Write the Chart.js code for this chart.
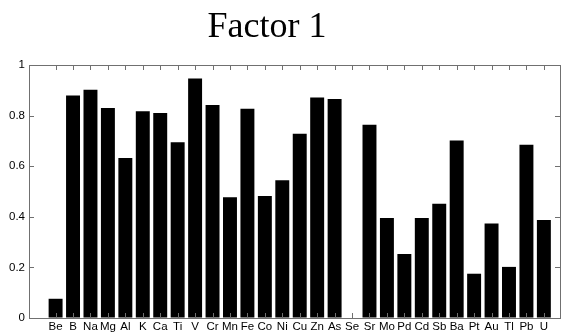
<!DOCTYPE html>
<html>
<head>
<meta charset="utf-8">
<script src="https://cdn.jsdelivr.net/npm/chart.js@4"></script>
<style>
  body { margin: 0; background: #fff; }
</style>
</head>
<body>
<canvas id="myChart" width="563" height="335"></canvas>
<script>
var elements = ['Be', 'B', 'Na', 'Mg', 'Al', 'K', 'Ca', 'Ti', 'V', 'Cr', 'Mn', 'Fe', 'Co', 'Ni', 'Cu',
                'Zn', 'As', 'Se', 'Sr', 'Mo', 'Pd', 'Cd', 'Sb', 'Ba', 'Pt', 'Au', 'Tl', 'Pb', 'U'];
var loadings = [0.076, 0.879, 0.902, 0.830, 0.632, 0.817, 0.810, 0.695, 0.947, 0.842, 0.477, 0.827, 0.482, 0.544, 0.728,
                0.872, 0.866, 0, 0.764, 0.395, 0.253, 0.395, 0.452, 0.702, 0.175, 0.374, 0.202, 0.685, 0.387];
var yTicks = [0, 0.2, 0.4, 0.6, 0.8, 1];
var titleText = 'Factor 1';

var axisColor = '#707070';
var tickLen = 5;

function catTicks(scale) {
    scale.ticks = elements.map(function (e, i) { return { value: i + 1 }; });
}
function valTicks(scale) {
    scale.ticks = yTicks.map(function (v) { return { value: v }; });
}

// MATLAB style: ticks pointing into the box, on all four sides
var inwardTicks = {
    id: 'inwardTicks',
    afterDatasetsDraw: function (chart) {
        var c = chart.ctx, a = chart.chartArea;
        var xs = chart.scales.x, ys = chart.scales.y;
        c.save();
        c.strokeStyle = axisColor;
        c.lineWidth = 1;
        c.beginPath();
        xs.ticks.forEach(function (t) {
            var px = Math.round(xs.getPixelForValue(t.value)) + 0.5;
            c.moveTo(px, a.bottom); c.lineTo(px, a.bottom - tickLen);
            c.moveTo(px, a.top); c.lineTo(px, a.top + tickLen);
        });
        ys.ticks.forEach(function (t) {
            var py = Math.round(ys.getPixelForValue(t.value)) + 0.5;
            c.moveTo(a.left, py); c.lineTo(a.left + tickLen, py);
            c.moveTo(a.right, py); c.lineTo(a.right - tickLen, py);
        });
        c.stroke();
        c.restore();
    }
};

var titlePlugin = {
    id: 'matlabTitle',
    afterDraw: function (chart) {
        var c = chart.ctx;
        c.save();
        c.font = '36px "Liberation Serif", "Times New Roman", serif';
        c.fillStyle = '#000';
        c.textAlign = 'center';
        c.textBaseline = 'alphabetic';
        c.fillText(titleText, 267, 37);
        c.restore();
    }
};

var labelFont = { family: '"Liberation Sans", Arial, sans-serif', size: 11.5 };

var ctx = document.getElementById('myChart').getContext('2d');
var chart = new Chart(ctx, {
    type: 'bar',
    data: {
        datasets: [{
            label: titleText,
            backgroundColor: '#000',
            borderWidth: 0,
            barPercentage: 0.8,
            categoryPercentage: 1.0,
            data: loadings.map(function (v, i) { return { x: i + 1, y: v }; })
        }]
    },
    options: {
        responsive: false,
        animation: false,
        layout: { padding: { top: 65, right: 3, left: 0, bottom: 0 } },
        plugins: {
            legend: { display: false },
            title: { display: false },
            tooltip: { enabled: false }
        },
        scales: {
            x: {
                type: 'linear',
                position: 'bottom',
                min: 0,
                max: 29.4,
                afterBuildTicks: catTicks,
                afterFit: function (s) { s.height = 17; },
                grid: { drawOnChartArea: false, drawTicks: false },
                border: { color: axisColor },
                ticks: {
                    autoSkip: false,
                    maxRotation: 0,
                    padding: 2,
                    color: '#000',
                    font: labelFont,
                    callback: function (v) { return elements[v - 1] || ''; }
                }
            },
            x2: {
                type: 'linear',
                position: 'top',
                min: 0,
                max: 29.4,
                afterFit: function (s) { s.height = 0; },
                grid: { drawOnChartArea: false, drawTicks: false },
                border: { color: axisColor },
                ticks: { display: false }
            },
            y: {
                position: 'left',
                min: 0,
                max: 1,
                afterBuildTicks: valTicks,
                afterFit: function (s) { s.width = 29; },
                grid: { drawOnChartArea: false, drawTicks: false },
                border: { color: axisColor },
                ticks: {
                    padding: 4,
                    color: '#000',
                    font: labelFont,
                    callback: function (v) { return String(v); }
                }
            },
            y2: {
                position: 'right',
                min: 0,
                max: 1,
                afterFit: function (s) { s.width = 0; },
                grid: { drawOnChartArea: false, drawTicks: false },
                border: { color: axisColor },
                ticks: { display: false }
            }
        }
    },
    plugins: [inwardTicks, titlePlugin]
});
</script>
</body>
</html>
